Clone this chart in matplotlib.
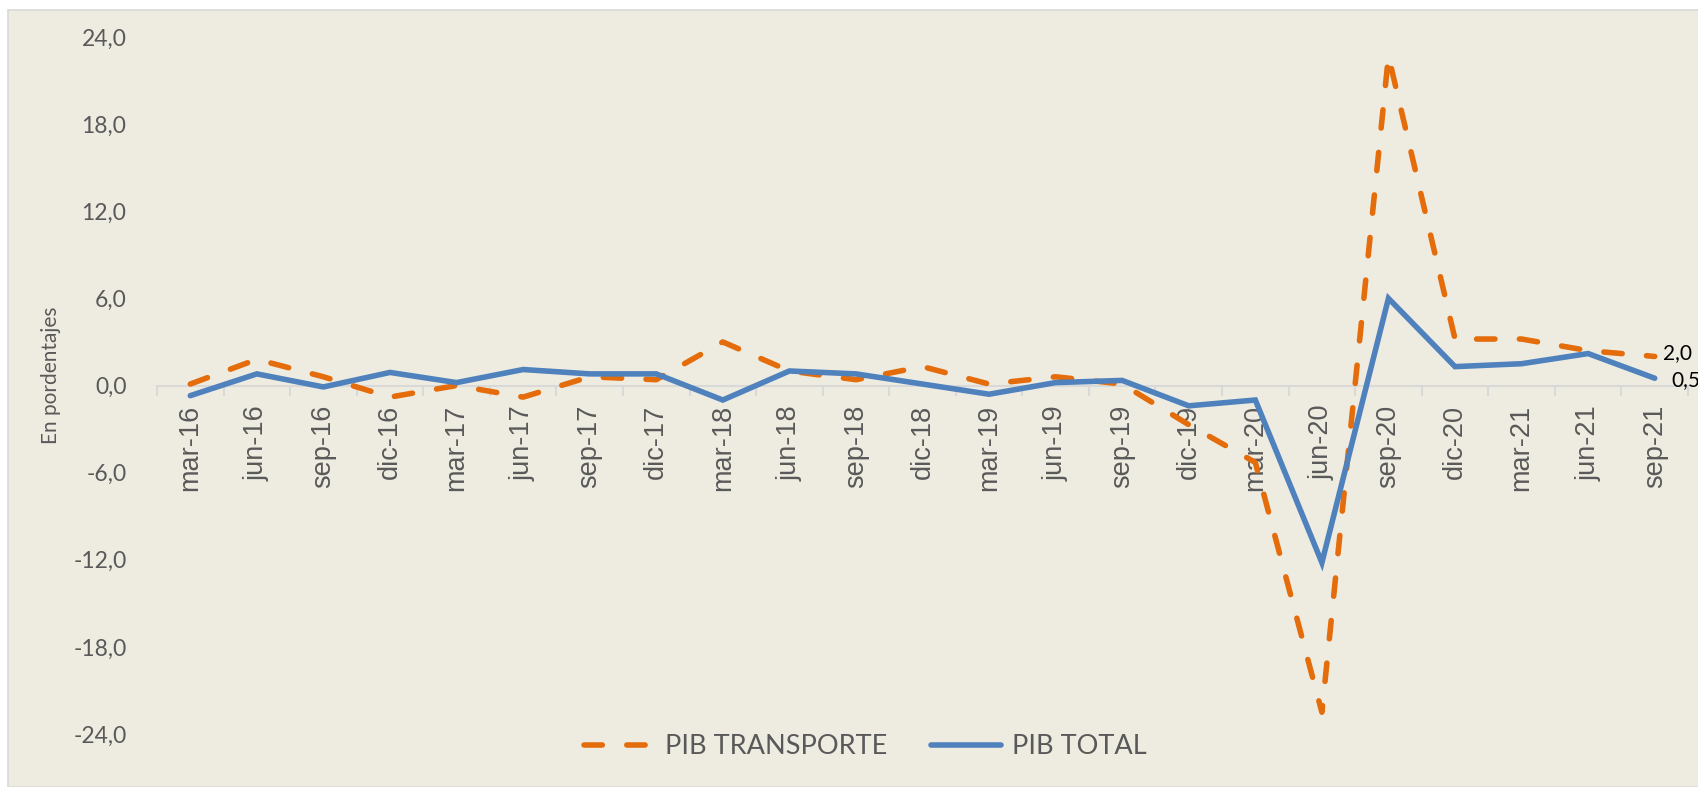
import numpy as np
import matplotlib
matplotlib.use('Agg')
import matplotlib.pyplot as plt
from matplotlib.patches import Rectangle
from matplotlib.ticker import FixedLocator, FuncFormatter, NullFormatter

plt.rcParams['font.family'] = ['Lato', 'DejaVu Sans']
narrow = ['Liberation Sans Narrow', 'Liberation Sans', 'DejaVu Sans']

# Data (variación trimestral, %)
periodos = ['mar-16', 'jun-16', 'sep-16', 'dic-16',
            'mar-17', 'jun-17', 'sep-17', 'dic-17',
            'mar-18', 'jun-18', 'sep-18', 'dic-18',
            'mar-19', 'jun-19', 'sep-19', 'dic-19',
            'mar-20', 'jun-20', 'sep-20', 'dic-20',
            'mar-21', 'jun-21', 'sep-21']
pib_transporte = [0.1, 1.8, 0.6, -0.8, 0.0, -0.8, 0.6, 0.4, 3.0, 1.0, 0.4, 1.3,
                  0.1, 0.6, 0.1, -2.7, -5.3, -22.5, 22.7, 3.2, 3.2, 2.4, 2.0]
pib_total = [-0.7, 0.8, -0.1, 0.9, 0.2, 1.1, 0.8, 0.8, -1.0, 1.0, 0.8, 0.1,
             -0.6, 0.2, 0.35, -1.4, -1.0, -12.2, 6.0, 1.3, 1.5, 2.2, 0.5]
yticks = [-24, -18, -12, -6, 0, 6, 12, 18, 24]

W, H = 1699, 787
fig = plt.figure(figsize=(W / 100, H / 100), dpi=100)
fig.patch.set_facecolor('white')

bg = '#EEECE1'
txt = '#595959'
fig.patches.append(Rectangle((8 / W, 0), 1 - 8 / W + 0.01, (H - 10) / H,
                             transform=fig.transFigure, facecolor=bg,
                             edgecolor='#D9D9D9', linewidth=1.2, zorder=-5))

ax = fig.add_axes([157 / W, (H - 734) / H, (1688 - 157) / W, (734 - 37) / H])
ax.set_facecolor('none')
ax.set_zorder(2)

x = np.arange(len(periodos))
ax.plot(x, pib_transporte, color='#E46C0A', lw=4.0, dashes=(3.3, 4.4),
        dash_capstyle='round', solid_capstyle='round', label='PIB TRANSPORTE', zorder=3)
ax.plot(x, pib_total, color='#4F81BD', lw=4.0, solid_joinstyle='miter',
        solid_capstyle='round', label='PIB TOTAL', zorder=3)

ax.set_xlim(-0.5, len(periodos) - 0.5)
ax.set_ylim(-24, 24)

for s in ['top', 'right', 'left']:
    ax.spines[s].set_visible(False)
ax.spines['bottom'].set_position(('data', 0))
ax.spines['bottom'].set_color('#D9D9D9')
ax.spines['bottom'].set_linewidth(1.5)

# tick marks between categories, labels at centres
ax.xaxis.set_major_locator(FixedLocator(np.arange(-0.5, len(periodos), 1.0)))
ax.xaxis.set_major_formatter(NullFormatter())
ax.xaxis.set_minor_locator(FixedLocator(x))
ax.set_xticklabels(periodos, minor=True, family=narrow)
ax.tick_params(axis='x', which='major', length=7, width=1.5, color='#D9D9D9', direction='out')
ax.tick_params(axis='x', which='minor', length=0, pad=14, labelsize=19.5, labelcolor=txt,
               labelrotation=90)

ax.set_yticks(yticks)
ax.yaxis.set_major_formatter(FuncFormatter(lambda v, p: f'{v:.1f}'.replace('.', ',')))
ax.tick_params(axis='y', length=0, pad=22, labelsize=16.5, labelcolor=txt)

fig.text(51 / W, 1 - 375 / H, 'En pordentajes', rotation=90, ha='center', va='center',
         fontsize=15, color=txt)

# data labels for last period
ax.annotate('2,0', (x[-1], pib_transporte[-1]), xytext=(8, 3), textcoords='offset pixels',
            ha='left', va='center', fontsize=15, color='black', annotation_clip=False)
ax.annotate('0,5', (x[-1], pib_total[-1]), xytext=(17, -2), textcoords='offset pixels',
            ha='left', va='center', fontsize=15, color='black', annotation_clip=False)

leg = fig.legend(loc='center', bbox_to_anchor=(865 / W, 1 - 747 / H), ncol=2, frameon=False,
                 fontsize=19.5, handlelength=2.6, columnspacing=1.6, handletextpad=0.4)
for t in leg.get_texts():
    t.set_color(txt)

fig.savefig('out.png', dpi=100, facecolor=fig.get_facecolor())
